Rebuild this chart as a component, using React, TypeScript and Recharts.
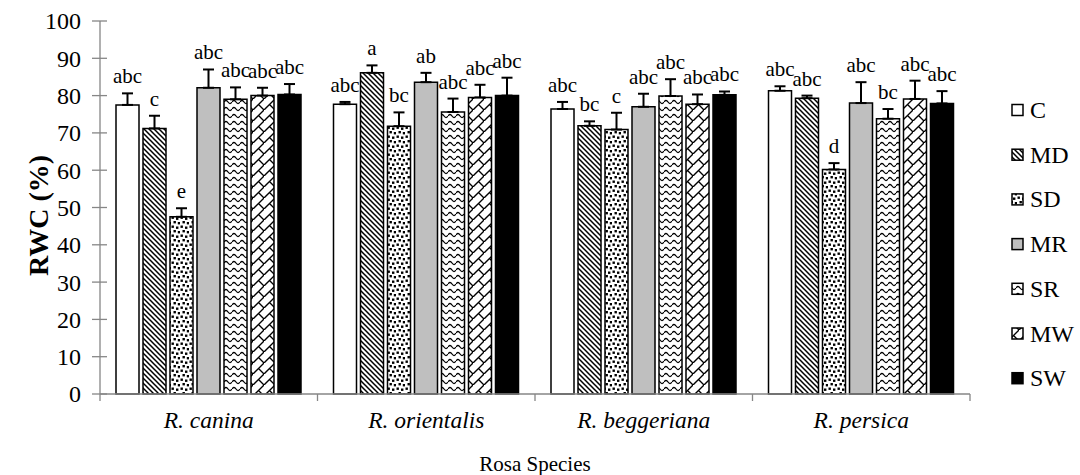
import React from "react";
import { BarChart, Bar, XAxis, YAxis, ErrorBar, Legend } from "recharts";

// ---------- data ----------
const species = ["R. canina", "R. orientalis", "R. beggeriana", "R. persica"];
const seriesNames = ["C", "MD", "SD", "MR", "SR", "MW", "SW"];

const C = [77.5, 77.7, 76.4, 81.3];
const MD = [71.2, 86.1, 71.9, 79.3];
const SD = [47.5, 71.8, 70.9, 60.2];
const MR = [82.1, 83.6, 77.0, 78.0];
const SR = [79.0, 75.6, 79.9, 73.8];
const MW = [80.0, 79.5, 77.7, 79.1];
const SW = [80.3, 80.0, 80.2, 77.9];

const C_err = [3.1, 0.6, 1.9, 1.2];
const MD_err = [3.4, 2.0, 1.2, 0.7];
const SD_err = [2.3, 3.7, 4.5, 1.7];
const MR_err = [4.9, 2.5, 3.5, 5.6];
const SR_err = [3.2, 3.6, 4.5, 2.6];
const MW_err = [2.1, 3.4, 2.6, 4.9];
const SW_err = [2.8, 4.8, 0.9, 3.3];

const C_letters = ["abc", "abc", "abc", "abc"];
const MD_letters = ["c", "a", "bc", "abc"];
const SD_letters = ["e", "bc", "c", "d"];
const MR_letters = ["abc", "ab", "abc", "abc"];
const SR_letters = ["abc", "abc", "abc", "bc"];
const MW_letters = ["abc", "abc", "abc", "abc"];
const SW_letters = ["abc", "abc", "abc", "abc"];

const yTicks = [0, 10, 20, 30, 40, 50, 60, 70, 80, 90, 100];

const valuesBySeries: Record<string, number[]> = { C, MD, SD, MR, SR, MW, SW };
const errBySeries: Record<string, number[]> = {
  C: C_err, MD: MD_err, SD: SD_err, MR: MR_err, SR: SR_err, MW: MW_err, SW: SW_err,
};
const lettersBySeries: Record<string, string[]> = {
  C: C_letters, MD: MD_letters, SD: SD_letters, MR: MR_letters,
  SR: SR_letters, MW: MW_letters, SW: SW_letters,
};

const data = species.map((s, i) => {
  const row: any = { species: s };
  seriesNames.forEach((n) => {
    row[n] = valuesBySeries[n][i];
    row[n + "_err"] = [0, errBySeries[n][i]];
  });
  return row;
});

// ---------- styles ----------
const FONT = "'Liberation Serif', 'Times New Roman', serif";
const AXIS = "#868686";
const fills: Record<string, string> = {
  C: "#ffffff",
  MD: "url(#pMD)",
  SD: "url(#pSD)",
  MR: "#bfbfbf",
  SR: "url(#pSR)",
  MW: "url(#pMW)",
  SW: "#000000",
};

const Patterns = () => (
  <svg width={0} height={0} style={{ position: "absolute" }}>
    <defs>
      <pattern id="pMD" patternUnits="userSpaceOnUse" width={5} height={5}>
        <rect width={5} height={5} fill="#fff" />
        <path d="M-1,-1 L6,6 M-1,4 L1,6 M4,-1 L6,1" stroke="#000" strokeWidth={1.5} />
      </pattern>
      <pattern id="pSD" patternUnits="userSpaceOnUse" width={9} height={9}>
        <rect width={9} height={9} fill="#fff" />
        <rect x={0.5} y={0.5} width={2.4} height={2.4} fill="#000" />
        <rect x={5} y={1.5} width={2.4} height={2.4} fill="#000" />
        <rect x={2.5} y={5} width={2.4} height={2.4} fill="#000" />
        <rect x={6.8} y={6} width={2.2} height={2.4} fill="#000" />
      </pattern>
      <pattern id="pSR" patternUnits="userSpaceOnUse" width={8} height={7}>
        <rect width={8} height={7} fill="#fff" />
        <path d="M0,4 Q2,1 4,4 T8,4" fill="none" stroke="#000" strokeWidth={1.3} />
      </pattern>
      <pattern id="pMW" patternUnits="userSpaceOnUse" width={11} height={11}>
        <rect width={11} height={11} fill="#fff" />
        <path d="M-1,12 L12,-1 M5.5,5.5 L12,12" fill="none" stroke="#000" strokeWidth={1.4} />
      </pattern>
    </defs>
  </svg>
);

const makeLetterLabel = (name: string) => (props: any) => {
  const { x, y, width, height, value, index } = props;
  const err = errBySeries[name][index];
  const errPx = value ? (err * height) / value : 0;
  return (
    <text
      key={name + index}
      x={x + width / 2}
      y={y - errPx - 10}
      textAnchor="middle"
      fontFamily={FONT}
      fontSize={21}
      fill="#000"
    >
      {lettersBySeries[name][index]}
    </text>
  );
};

const YTick = (props: any) => {
  const { x, y, payload } = props;
  return (
    <g>
      <line x1={x - 8} x2={x + 7} y1={y} y2={y} stroke={AXIS} strokeWidth={1.3} />
      <text x={x - 19} y={y} dy="0.35em" textAnchor="end" fontFamily={FONT} fontSize={24} fill="#000">
        {payload.value}
      </text>
    </g>
  );
};

const XTick = (props: any) => {
  const { x, y, payload, index, width, visibleTicksCount } = props;
  const band = width && visibleTicksCount ? width / visibleTicksCount : 217.5;
  return (
    <g>
      {index === 0 && (
        <line x1={x - band / 2} x2={x - band / 2} y1={y} y2={y + 7} stroke={AXIS} strokeWidth={1.3} />
      )}
      <line x1={x + band / 2} x2={x + band / 2} y1={y} y2={y + 7} stroke={AXIS} strokeWidth={1.3} />
      <text x={x} y={y + 34} textAnchor="middle" fontFamily={FONT} fontStyle="italic" fontSize={23.5} fill="#000">
        {payload.value}
      </text>
    </g>
  );
};

const LegendContent = () => (
  <svg width={72} height={320}>
    {seriesNames.map((n, i) => {
      const cy = 22 + i * 44.7;
      return (
        <g key={n}>
          <rect x={4} y={cy - 5.5} width={11} height={11} fill={fills[n]} stroke="#000" strokeWidth={1.5} />
          <text x={22} y={cy + 8} fontFamily={FONT} fontSize={24} fill="#000">
            {n}
          </text>
        </g>
      );
    })}
  </svg>
);

export default function App() {
  return (
    <div style={{ position: "absolute", left: 0, top: 0, width: 1080, height: 475, background: "#fff" }}>
      <Patterns />
      <BarChart
        width={1080}
        height={475}
        data={data}
        margin={{ top: 21, right: 110, bottom: 31, left: 0 }}
        barSize={23}
        barGap={4}
      >
        <XAxis
          dataKey="species"
          height={50}
          tickLine={false}
          tickSize={0}
          tickMargin={0}
          axisLine={{ stroke: AXIS, strokeWidth: 1.3 }}
          tick={<XTick />}
          interval={0}
          label={{
            content: (p: any) => {
              const vb = p.viewBox;
              return (
                <text x={vb.x + vb.width / 2} y={vb.y + 77} textAnchor="middle" fontFamily={FONT} fontSize={21} fill="#000">
                  Rosa Species
                </text>
              );
            },
          }}
        />
        <YAxis
          width={100}
          domain={[0, 100]}
          ticks={yTicks}
          interval={0}
          tickLine={false}
          tickSize={0}
          tickMargin={0}
          axisLine={{ stroke: AXIS, strokeWidth: 1.3 }}
          tick={<YTick />}
          label={{
            content: (p: any) => {
              const vb = p.viewBox;
              const cx = 38;
              const cy = vb.y + vb.height / 2 + 8;
              return (
                <text
                  x={cx}
                  y={cy}
                  transform={`rotate(-90, ${cx}, ${cy})`}
                  textAnchor="middle"
                  dy="0.35em"
                  fontFamily={FONT}
                  fontWeight="bold"
                  fontSize={28}
                  fill="#000"
                >
                  RWC (%)
                </text>
              );
            },
          }}
        />
        <Legend
          layout="vertical"
          align="center"
          verticalAlign="middle"
          content={<LegendContent />}
          wrapperStyle={{ position: "absolute", left: 1008, top: 88, width: 72, height: 320 }}
        />
        {seriesNames.map((n) => (
          <Bar
            key={n}
            dataKey={n}
            fill={fills[n]}
            stroke="#000"
            strokeWidth={1.5}
            isAnimationActive={false}
            label={makeLetterLabel(n)}
          >
            <ErrorBar dataKey={n + "_err"} width={5.5} stroke="#000" strokeWidth={2} direction="y" />
          </Bar>
        ))}
      </BarChart>
    </div>
  );
}
